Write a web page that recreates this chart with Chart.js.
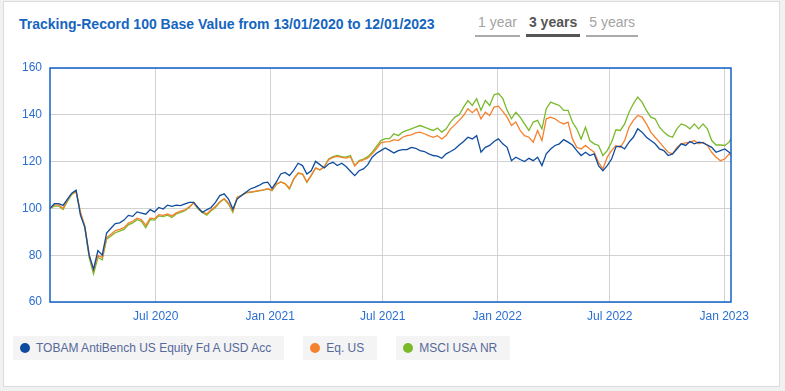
<!DOCTYPE html>
<html lang="en">
<head>
<meta charset="utf-8">
<title>Tracking-Record</title>
<script src="https://cdn.jsdelivr.net/npm/chart.js@4.4.0/dist/chart.umd.min.js"></script>
<style>
    html, body { margin: 0; padding: 0; background: #f1f1f1; font-family: Arial, "Liberation Sans", sans-serif; }
    #tarjeta { position: absolute; left: 3px; top: 1px; width: 777px; height: 386px; background: #fff; border: 1px solid #dcdcdc; box-sizing: border-box; }
    #titulo { position: absolute; left: 19px; top: 15px; font-size: 14px; font-weight: bold; color: #1565c0; line-height: 18px; white-space: nowrap; }
    #periodos { position: absolute; left: 475px; top: 13px; display: flex; gap: 6px; }
    #periodos span { font-size: 14px; line-height: 18px; color: #a3a3a3; padding: 0 3px 3px 3px; border-bottom: 2px solid #aaa; }
    #periodos span.activo { color: #555; font-weight: bold; border-bottom: 3px solid #555; }
    #contenedor { position: absolute; left: 0; top: 50px; width: 785px; height: 280px; }
    #leyenda { position: absolute; left: 13px; top: 336px; display: flex; gap: 19px; }
    .item { display: flex; align-items: center; height: 24px; background: #f4f4f4; padding: 0 13px 0 7px; font-size: 12px; color: #56699a; white-space: nowrap; }
    .punto { width: 10px; height: 10px; border-radius: 50%; margin-right: 6px; }
</style>
</head>
<body>
<div id="tarjeta"></div>
<div id="titulo">Tracking-Record 100 Base Value from 13/01/2020 to 12/01/2023</div>
<div id="periodos"><span>1 year</span><span class="activo">3 years</span><span>5 years</span></div>
<div id="contenedor"><canvas id="grafica"></canvas></div>
<div id="leyenda"></div>

<script>
// --- Datos (lecturas semanales desde 13/01/2020, último punto 12/01/2023) ---
const fechaInicio = '2020-01-13';
const fechaFin = '2023-01-12';

const nombres = ['TOBAM AntiBench US Equity Fd A USD Acc', 'Eq. US', 'MSCI USA NR'];
const colores = ['#0f4c9e', '#f5812e', '#79b92a'];

const fondoTobam = [
    100, 102, 102, 101.3, 104, 106.5, 107.8, 97, 92, 80,
    74, 82, 80, 89.5, 91.5, 93.5, 93.8, 95, 97, 96.6,
    98.5, 98, 97.5, 99.5, 98.5, 100.4, 99.7, 101.4, 100.9, 101.4,
    101.2, 101.9, 102.6, 102.6, 100.4, 98.3, 99.4, 100.4, 102.6, 105.5,
    106.2, 104, 99.7, 104, 105.5, 106.9, 108.3, 109, 109.8, 110.9,
    111.2, 108.6, 111.3, 114.7, 115.4, 114, 116.4, 119.3, 118.3, 114.7,
    116.1, 120.1, 118.7, 117.3, 119, 119.7, 118.3, 119.3, 117.9, 115.9,
    114, 116.1, 116.9, 118.7, 121.9, 123.6, 124.7, 125.8, 124.8, 123.7,
    124.7, 125.1, 125.1, 126.1, 125.7, 124.7, 124.3, 123.3, 122.6, 122.3,
    121.4, 123.3, 124.3, 125.4, 127.1, 128.6, 130.4, 129.7, 131.1, 124,
    126.1, 126.9, 128.6, 129.7, 127.6, 126.1, 120.4, 121.9, 120.9, 120,
    121.4, 120.4, 121.9, 118.3, 123.3, 125.4, 126.9, 127.6, 129.4, 128.3,
    127.1, 124.7, 122.6, 124, 122.6, 123.3, 118.3, 116.1, 118.3, 121.1,
    126.3, 126.6, 125.4, 128.3, 130.4, 134, 132.6, 130.4, 129, 127.6,
    125.4, 124.7, 122.6, 123.3, 125.4, 127.6, 126.9, 128.6, 127.6, 128.3,
    128, 127.1, 126.1, 124, 124.7, 125.4, 124, 123.3
];

const categoriaEqUS = [
    100, 101.5, 101.5, 100, 103.5, 106.3, 107.3, 98.5, 92.5, 80,
    73.5, 80, 79, 87.5, 89, 90.5, 91, 91.8, 93.7, 94.5,
    95.8, 95.2, 92.8, 95.8, 95.6, 97.3, 97, 97.6, 96.8, 98.1,
    98.8, 99.4, 100.7, 102.3, 100, 98.6, 97.6, 99.4, 100.8, 102.9,
    104.2, 102.2, 98.8, 104.8, 105.6, 106.7, 107, 107.3, 107.6, 107.9,
    108.4, 107.8, 110.4, 111.3, 110.6, 108.6, 112.6, 115.1, 114.8, 111.4,
    114.1, 117.2, 116.5, 117.8, 120.8, 121.8, 122.2, 121.8, 121.5, 122.1,
    118.2, 120.1, 120.7, 121.6, 123.3, 125.5, 128, 128.4, 128.5, 129.4,
    129, 130.4, 131.1, 131.4, 132.3, 132.6, 131.9, 131.1, 130.4, 131.1,
    129.7, 131.1, 134, 135.7, 137.6, 139.7, 142.6, 140.9, 142.6, 138.3,
    141.1, 139.7, 143.3, 143.7, 141.5, 139, 135.4, 136.9, 133.3, 131.1,
    130.4, 128.3, 133.3, 129, 138.3, 139, 138.3, 136.9, 136.1, 136.9,
    129.7, 126.1, 125.4, 126.9, 125.4, 124, 119.7, 116.9, 121.9, 124.7,
    126.9, 126.1, 129, 134.7, 137.6, 139.7, 139, 136.1, 132.6, 130.4,
    128.3, 126.1, 124, 123.3, 126.1, 127.6, 128, 128.3, 129, 127.6,
    128.3, 126.9, 124, 121.9, 120.4, 121.1, 123.3, 122.6
];

const indiceMsci = [
    100, 101, 101, 99.5, 103, 106, 107, 98, 91.7, 79,
    72, 79, 78, 86.8, 88.2, 89.6, 90.3, 91, 93, 93.8,
    95.2, 94.5, 91.7, 95.2, 95, 96.8, 96.5, 97.1, 96.1, 97.6,
    98.3, 99, 100.4, 102.5, 99.7, 98.3, 97.1, 99, 100.4, 102.6,
    104, 101.9, 98.3, 104.7, 105.5, 106.6, 106.9, 107.2, 107.5, 107.8,
    108.3, 107.6, 110.3, 111.3, 110.5, 108.3, 112.6, 115, 114.7, 111.1,
    114, 117.3, 116.4, 117.9, 121.1, 122.1, 122.6, 122.1, 121.9, 122.6,
    118.3, 120.4, 121.1, 122.1, 124, 126.5, 129, 129.8, 129.8, 131.9,
    131.1, 132.6, 133.3, 134, 134.7, 135.4, 134.7, 134, 133.3, 134.3,
    132.6, 134, 136.9, 139, 140, 143.3, 146.1, 144, 146.9, 141.9,
    146.1, 144, 148.6, 149.1, 147, 141.9, 138.3, 141.1, 139, 136.1,
    133.3, 136.9, 137.6, 134, 142.6, 145.4, 144.7, 144, 141.9, 141.9,
    136.9, 134, 129.7, 134.7, 129, 127.6, 126.9, 122.6, 124.7, 128.3,
    133.6, 133.3, 136.1, 141.1, 144.7, 147.6, 145.4, 141.9, 139, 138.3,
    134.7, 132.6, 131.1, 130.4, 134, 136.1, 135.4, 134, 136.1, 134,
    136.1, 134, 129, 127.1, 127.1, 126.9, 128.3, 129.7
];

// Ticks del eje X y del eje Y
const fechasTicks = ['2020-07-01', '2021-01-01', '2021-07-01', '2022-01-01', '2022-07-01', '2023-01-01'];
const etiquetasTicks = ['Jul 2020', 'Jan 2021', 'Jul 2021', 'Jan 2022', 'Jul 2022', 'Jan 2023'];
const ejeYMin = 60;
const ejeYMax = 160;
const ejeYPaso = 20;

// --- Utilidades de fecha ---
const UN_DIA = 86400000;
function diasDesdeInicio(fecha) {
    return Math.round((Date.parse(fecha + 'T00:00:00Z') - Date.parse(fechaInicio + 'T00:00:00Z')) / UN_DIA);
}

// dias de cada lectura: semanal y el último día del periodo
const totalDias = diasDesdeInicio(fechaFin);
const diasLecturas = [];
for (let d = 0; d < totalDias; d += 7) diasLecturas.push(d);
diasLecturas.push(totalDias);

const diasTicks = fechasTicks.map(diasDesdeInicio);

function armarSerie(valores) {
    return valores.map((v, i) => ({ x: diasLecturas[i], y: v }));
}

// --- Leyenda HTML ---
const leyenda = document.getElementById('leyenda');
nombres.forEach((nombre, i) => {
    const item = document.createElement('div');
    item.className = 'item';
    item.innerHTML = '<span class="punto" style="background:' + colores[i] + '"></span>' + nombre;
    leyenda.appendChild(item);
});

// Marco azul alrededor del area de trazado
const marcoPlot = {
    id: 'marcoPlot',
    afterDatasetsDraw(chart) {
        const { ctx, chartArea: a } = chart;
        ctx.save();
        ctx.strokeStyle = '#1262c9';
        ctx.lineWidth = 1.5;
        ctx.strokeRect(a.left, a.top, a.right - a.left, a.bottom - a.top);
        ctx.restore();
    }
};

const series = [fondoTobam, categoriaEqUS, indiceMsci];

new Chart(document.getElementById('grafica'), {
    type: 'line',
    data: {
        datasets: series.map((valores, i) => ({
            label: nombres[i],
            data: armarSerie(valores),
            borderColor: colores[i],
            backgroundColor: colores[i],
            borderWidth: 1.3,
            pointRadius: 0,
            tension: 0,
            fill: false
        }))
    },
    options: {
        responsive: true,
        maintainAspectRatio: false,
        animation: false,
        layout: { padding: { top: 18, right: 54, bottom: 0, left: 0 } },
        plugins: {
            legend: { display: false },
            tooltip: { enabled: false }
        },
        scales: {
            x: {
                type: 'linear',
                min: 0,
                max: totalDias,
                afterFit: (s) => { s.height = 28; },
                afterBuildTicks: (axis) => { axis.ticks = diasTicks.map(v => ({ value: v })); },
                grid: { color: '#d2d2d2', drawTicks: false },
                border: { display: false },
                ticks: {
                    autoSkip: false,
                    maxRotation: 0,
                    padding: 7,
                    color: '#2a6fd2',
                    font: { family: 'Arial, "Liberation Sans", sans-serif', size: 12 },
                    callback: (v) => etiquetasTicks[diasTicks.indexOf(v)]
                }
            },
            y: {
                min: ejeYMin,
                max: ejeYMax,
                afterFit: (s) => { s.width = 50; },
                grid: { color: '#d2d2d2', drawTicks: false },
                border: { display: false },
                ticks: {
                    stepSize: ejeYPaso,
                    padding: 8,
                    color: '#2a6fd2',
                    font: { family: 'Arial, "Liberation Sans", sans-serif', size: 12 }
                }
            }
        }
    },
    plugins: [marcoPlot]
});
</script>
</body>
</html>
